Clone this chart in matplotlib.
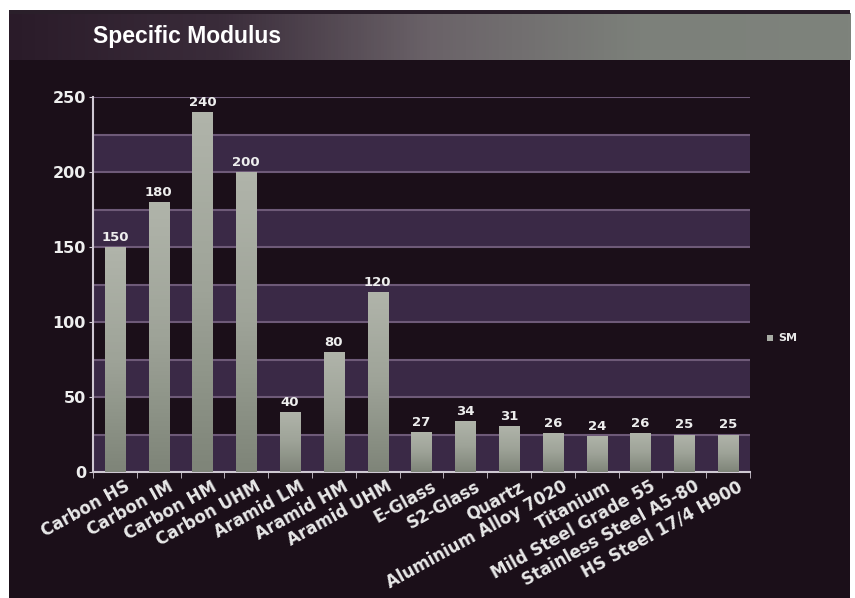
import matplotlib
matplotlib.use("Agg")
import matplotlib.pyplot as plt
import matplotlib.transforms as mtransforms
import numpy as np
from matplotlib.patches import Rectangle
from matplotlib.colors import LinearSegmentedColormap

categories = ["Carbon HS", "Carbon IM", "Carbon HM", "Carbon UHM", "Aramid LM",
              "Aramid HM", "Aramid UHM", "E-Glass", "S2-Glass", "Quartz",
              "Aluminium Alloy 7020", "Titanium", "Mild Steel Grade 55",
              "Stainless Steel A5-80", "HS Steel 17/4 H900"]
values = [150, 180, 240, 200, 40, 80, 120, 27, 34, 31, 26, 24, 26, 25, 25]
yticks = [0, 50, 100, 150, 200, 250]
title = "Specific Modulus"
series_name = "SM"

plt.rcParams['font.family'] = ['DejaVu Sans']

W, H = 855, 598
fig = plt.figure(figsize=(W / 100, H / 100), dpi=100)
fig.patch.set_facecolor("white")

# background frame
bg = fig.add_axes([0, 0, 1, 1], zorder=-10)
bg.set_xlim(0, W)
bg.set_ylim(H, 0)
bg.axis("off")
bg.add_patch(Rectangle((9, 10), W - 14, H - 10, facecolor="#1b0f19", edgecolor="none"))
grad = np.linspace(0, 1, 256)[None, :]
cm_title = LinearSegmentedColormap.from_list("t", ["#2a1b29", "#3a2c3a", "#6a6268", "#7c807a", "#7e837c"])
bg.imshow(grad, cmap=cm_title, extent=(9, W - 5, 60, 13), aspect="auto", zorder=1)
bg.add_patch(Rectangle((9, 10), W - 14, 4, facecolor="#2a1f2a", edgecolor="none", zorder=2))
bg.text(93, 37, title, color="white", fontsize=16.5, fontweight="bold", va="center", ha="left",
        family="Liberation Sans", zorder=3)

# legend
bg.add_patch(Rectangle((767, 335), 6, 6, facecolor="#a8aca4", edgecolor="none", zorder=3))
bg.text(778, 338, series_name, color="#e8e8e8", fontsize=8, fontweight="bold", va="center", ha="left", zorder=3)

ax = fig.add_axes([93 / W, 1 - 472 / H, (750 - 93) / W, (472 - 97) / H])
ax.set_facecolor("none")
n = len(values)
x = np.arange(n)

for lo in range(0, 250, 50):
    ax.axhspan(lo, lo + 25, color="#3a2946", zorder=0, lw=0)
for g in range(25, 251, 25):
    ax.axhline(g, color="#6e5a78", lw=1.5, zorder=1)

cm_bar = LinearSegmentedColormap.from_list("b", ["#7f8579", "#9ea398", "#b0b4aa"])
bw = 0.46
bars = ax.bar(x, values, width=bw, color="#a0a59a", zorder=2)
for b in bars:
    x0, y0 = b.get_x(), b.get_y()
    w, h = b.get_width(), b.get_height()
    im = ax.imshow(np.linspace(0, 1, 64)[:, None], cmap=cm_bar, origin="lower",
                   extent=(x0, x0 + w, y0, y0 + h), aspect="auto", zorder=3)
    im.set_clip_path(b)
ax.set_xlim(-0.5, n - 0.5)
ax.set_ylim(0, 250)

for xi, v in zip(x, values):
    ax.text(xi, v + 2, str(v), ha="center", va="bottom", color="#eeeeee",
            fontsize=9.5, fontweight="bold", zorder=4)

for s in ["top", "right"]:
    ax.spines[s].set_visible(False)
for s in ["left", "bottom"]:
    ax.spines[s].set_color("#cfc8d2")
    ax.spines[s].set_linewidth(1.5)

ax.set_yticks(yticks)
ax.set_yticklabels([str(t) for t in yticks], color="#eeeeee", fontsize=11.5, fontweight="bold")
ax.tick_params(axis="y", colors="#cfc8d2", length=3, labelcolor="#eeeeee", pad=2)

ax.set_xticks(np.arange(-0.5, n, 1), minor=True)
ax.set_xticks(x)
ax.set_xticklabels(categories, rotation=29, ha="right", rotation_mode="anchor",
                   color="#e8e8e8", fontsize=12, fontweight="bold")
ax.tick_params(axis="x", which="major", length=0, pad=4)
ax.tick_params(axis="x", which="minor", length=4, colors="#cfc8d2")
offset = mtransforms.ScaledTranslation(9 / 100, 0, fig.dpi_scale_trans)
for lab in ax.get_xticklabels():
    lab.set_transform(lab.get_transform() + offset)

fig.savefig("out.png", dpi=100, facecolor=fig.get_facecolor())
